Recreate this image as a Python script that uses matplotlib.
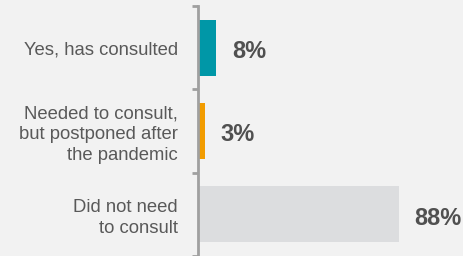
import matplotlib.pyplot as plt

# survey answers, top to bottom
categories = ["Yes, has consulted",
              "Needed to consult,\nbut postponed after\nthe pandemic",
              "Did not need\nto consult"]
values = [8, 3, 88]
value_labels = ["8%", "3%", "88%"]
colors = ["#0097a7", "#f29c00", "#dcdddf"]

plt.rcParams['font.family'] = ['Liberation Sans', 'DejaVu Sans']

fig = plt.figure(figsize=(4.64, 2.56), dpi=100, facecolor="#f2f2f2")
ax = fig.add_axes([198/464, 0, 262/464, 250/256])
ax.set_facecolor("#f2f2f2")

pos = range(len(values))
ax.barh(pos, values, height=0.67, color=colors)

for p, v, lab in zip(pos, values, value_labels):
    ax.annotate(lab, (v, p), xytext=(11.5, -1), textcoords="offset points",
                va="center_baseline", ha="left", fontsize=17, fontweight="bold",
                color="#505050")

ax.set_xlim(0, 262/2.28)
ax.set_ylim(2.5, -0.5)

ax.set_yticks(list(pos))
ax.set_yticklabels(categories, fontsize=13.3, color="#595959", linespacing=1.3)
ax.tick_params(axis="y", which="major", length=0, pad=14.4)
ax.set_yticks([-0.5, 0.5, 1.5, 2.5], minor=True)
ax.tick_params(axis="y", which="minor", length=4, width=2, color="#a0a0a0")
ax.set_xticks([])

for s in ["top", "right", "bottom"]:
    ax.spines[s].set_visible(False)
ax.spines["left"].set_color("#a0a0a0")
ax.spines["left"].set_linewidth(2)

fig.savefig("out.png", dpi=100, facecolor=fig.get_facecolor())
